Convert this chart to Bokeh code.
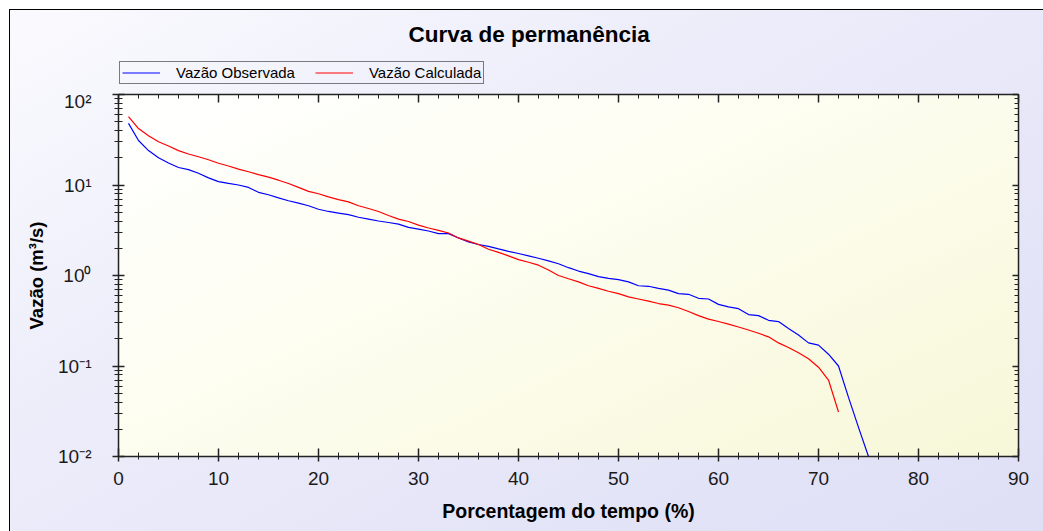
from bokeh.plotting import figure
from bokeh.layouts import column
from bokeh.models import (Range1d, LinearAxis, LogAxis, FixedTicker, Legend, LegendItem,
                          CustomJSTickFormatter, Label)
from bokeh.embed import file_html
from bokeh.resources import INLINE

# ---- data ----
pct_obs = list(range(1, 76))
q_obs = [48, 31, 24, 20, 17.5, 15.6, 14.8, 13.5, 12, 10.9,
         10.4, 10.0, 9.4, 8.3, 7.8, 7.2, 6.7, 6.3, 5.9, 5.4,
         5.1, 4.9, 4.7, 4.4, 4.2, 4.0, 3.85, 3.7, 3.4, 3.25,
         3.1, 2.9, 2.9, 2.6, 2.35, 2.2, 2.1, 1.97, 1.85, 1.75,
         1.65, 1.55, 1.45, 1.35, 1.22, 1.12, 1.05, 0.97, 0.93, 0.9,
         0.85, 0.77, 0.76, 0.72, 0.69, 0.63, 0.62, 0.56, 0.55, 0.48,
         0.45, 0.43, 0.37, 0.36, 0.32, 0.31, 0.26, 0.22, 0.18, 0.17,
         0.135, 0.10, 0.045, 0.021, 0.01]
pct_calc = list(range(1, 73))
q_calc = [57, 42, 35, 30, 27, 24, 22, 20.5, 19, 17.4,
          16.2, 15, 14, 13, 12.2, 11.3, 10.4, 9.4, 8.5, 8.0,
          7.4, 6.9, 6.5, 5.9, 5.5, 5.1, 4.6, 4.2, 3.95, 3.6,
          3.35, 3.15, 2.95, 2.6, 2.4, 2.2, 1.95, 1.8, 1.65, 1.5,
          1.4, 1.3, 1.15, 1.0, 0.92, 0.85, 0.77, 0.72, 0.67, 0.63,
          0.58, 0.55, 0.52, 0.49, 0.47, 0.44, 0.40, 0.36, 0.33, 0.31,
          0.29, 0.27, 0.25, 0.23, 0.21, 0.18, 0.16, 0.14, 0.12, 0.097,
          0.07, 0.031]

x_major = [0, 10, 20, 30, 40, 50, 60, 70, 80, 90]
x_minor = [v for v in range(0, 91, 2) if v % 10 != 0]
y_major = [0.01, 0.1, 1, 10, 100]
y_labels = {0.01: "10⁻²", 0.1: "10⁻¹", 1: "10⁰", 10: "10¹", 100: "10²"}
y_minor = [m * d for d in [0.01, 0.1, 1, 10] for m in range(2, 10)]

title_text = "Curva de permanência"
xlabel = "Porcentagem do tempo (%)"
ylabel = "Vazão (m³/s)"
name_obs = "Vazão Observada"
name_calc = "Vazão Calculada"
color_obs = "#0000ff"
color_calc = "#ff0000"

FONT = "Liberation Sans"
W, H_HEAD, H_MAIN = 1043, 90, 441

bg = ("linear-gradient(#000, #000) 9px 9px / 100% 1px no-repeat, "
      "linear-gradient(#000, #000) 9px 9px / 1px 100% no-repeat, "
      "linear-gradient(155deg, #ffffff 0%, #fdfdf0 45%, #f7f7d8 100%) 118px 94px / 900px 362px no-repeat, "
      "linear-gradient(150deg, #fafafe 0%, #ececfa 40%, #dedef6 100%) 10px 10px / 100% 100% no-repeat, "
      "#ffffff")

# ---------------- header: title + legend ----------------
# its ranges keep the series out of view; the series only provide the legend keys
hp = figure(width=W, height=H_HEAD, x_range=Range1d(-2, -1), y_range=Range1d(-2, -1),
            output_backend="svg", toolbar_location=None, title=None, min_border=0,
            x_axis_location=None, y_axis_location=None)
hp.border_fill_alpha = 0
hp.background_fill_alpha = 0
hp.outline_line_color = None
hp.grid.visible = False

hp.add_layout(Label(x=290, y=H_HEAD - 34, x_units="screen", y_units="screen", text=title_text,
                    text_font=FONT, text_font_size="22.5px", text_font_style="bold",
                    text_color="#000000", text_baseline="alphabetic"))

k_obs = hp.line(pct_obs, q_obs, line_color=color_obs, line_width=1.2)
k_calc = hp.line(pct_calc, q_calc, line_color=color_calc, line_width=1.2)
legend = Legend(items=[LegendItem(label=name_obs, renderers=[k_obs]),
                       LegendItem(label=name_calc, renderers=[k_calc])],
                orientation="horizontal", location=(1, H_HEAD - 84))
legend.label_text_font = FONT
legend.label_text_font_size = "15px"
legend.label_text_color = "#000000"
legend.glyph_width = 38
legend.glyph_height = 15
legend.label_height = 15
legend.label_standoff = 16
legend.spacing = 20
legend.padding = 2
legend.margin = 0
legend.border_line_color = "#000000"
legend.border_line_width = 1
legend.background_fill_alpha = 0
hp.add_layout(legend, "center")

# ---------------- main plot ----------------
p = figure(width=W, height=H_MAIN, x_range=Range1d(0, 90), y_range=Range1d(0.01, 100),
           y_axis_type="log", output_backend="svg", toolbar_location=None, title=None,
           min_border_left=118, min_border_right=25, min_border_top=94 - H_HEAD, min_border_bottom=75,
           x_axis_location=None, y_axis_location=None)
p.border_fill_alpha = 0
p.background_fill_alpha = 0
p.outline_line_color = "#000000"
p.outline_line_width = 1
p.grid.visible = False

def style_axis(ax, show_labels):
    ax.axis_line_color = "#222222"
    ax.axis_line_width = 1.5
    ax.major_tick_line_color = "#222222"
    ax.minor_tick_line_color = "#222222"
    ax.major_tick_line_width = 1.5
    ax.minor_tick_line_width = 1
    ax.major_label_text_font = FONT
    ax.major_label_text_font_size = "19px"
    ax.major_label_text_color = "#1a1a1a"
    ax.axis_label_text_font = FONT
    ax.axis_label_text_font_size = "18.5px"
    ax.axis_label_text_font_style = "bold"
    ax.axis_label_text_color = "#000000"
    if not show_labels:
        ax.formatter = CustomJSTickFormatter(code="return ''")
        ax.major_label_text_font_size = "1px"
        ax.major_label_standoff = 0

xb = LinearAxis(ticker=FixedTicker(ticks=x_major, minor_ticks=x_minor), axis_label=xlabel)
style_axis(xb, True)
xb.axis_label_text_font_size = "19.5px"
xb.major_tick_in, xb.major_tick_out = 8, 5
xb.minor_tick_in, xb.minor_tick_out = 4, 3
xb.major_label_standoff = 10
xb.axis_label_standoff = 12
p.add_layout(xb, "below")

xt = LinearAxis(ticker=FixedTicker(ticks=x_major, minor_ticks=x_minor))
style_axis(xt, False)
xt.major_tick_in, xt.major_tick_out = 8, 0
xt.minor_tick_in, xt.minor_tick_out = 4, 0
p.add_layout(xt, "above")

yl = LogAxis(ticker=FixedTicker(ticks=y_major, minor_ticks=y_minor), axis_label=ylabel)
style_axis(yl, True)
yl.major_label_overrides = y_labels
yl.major_tick_in, yl.major_tick_out = 6, 6
yl.minor_tick_in, yl.minor_tick_out = 4, 4
yl.major_label_standoff = 21
yl.axis_label_standoff = 8
p.add_layout(yl, "left")

yr = LogAxis(ticker=FixedTicker(ticks=y_major, minor_ticks=y_minor))
style_axis(yr, False)
yr.major_tick_in, yr.major_tick_out = 6, 0
yr.minor_tick_in, yr.minor_tick_out = 4, 0
p.add_layout(yr, "right")

p.line(pct_obs, q_obs, line_color=color_obs, line_width=1.2)
p.line(pct_calc, q_calc, line_color=color_calc, line_width=1.2)

layout = column(hp, p, spacing=0, styles={"background": bg})

open("out.html", "w").write(file_html(layout, INLINE))
